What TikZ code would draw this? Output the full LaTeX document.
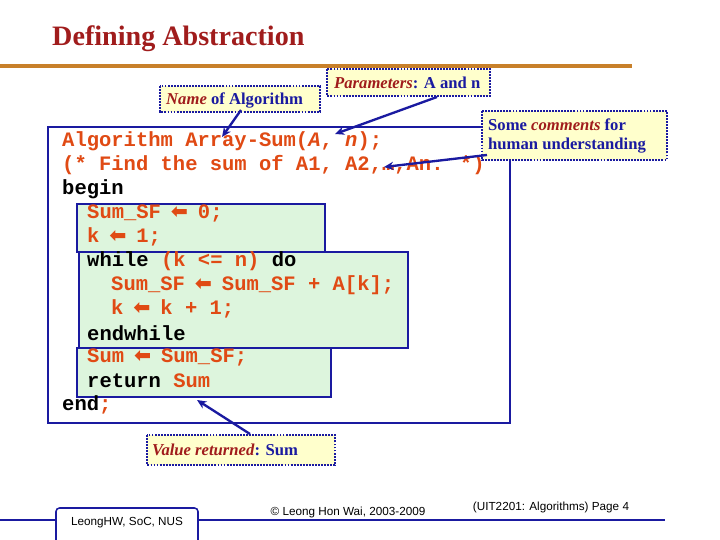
\documentclass[tikz,border=0pt]{standalone}
\usepackage{fontspec}
\setmainfont{Liberation Serif}
\setsansfont{Liberation Sans}
\newfontfamily\codef{Liberation Mono}
\newfontfamily\arrf{DejaVu Sans}
\usetikzlibrary{arrows.meta}
\definecolor{cred}{HTML}{E04A14}
\definecolor{cblue}{HTML}{1A1AA0}
\definecolor{ttl}{HTML}{A01C1C}
\definecolor{org}{HTML}{C8802A}
\definecolor{ylw}{HTML}{FFFFCC}
\definecolor{grn}{HTML}{DDF5DD}
\newcommand{\la}{\makebox[0.6em]{\arrf\bfseries ⬅}}
\begin{document}
\begin{tikzpicture}[x=0.03cm,y=-0.03cm,
  codeln/.style={anchor=west,inner sep=0,font=\codef\bfseries\fontsize{17.5pt}{20pt}\selectfont},
  note/.style={draw=cblue,densely dotted,line width=1.6pt,fill=ylw},
  notetxt/.style={font=\bfseries\fontsize{14.2pt}{16pt}\selectfont,text=cblue,align=left,inner sep=0,anchor=west},
  grnbox/.style={draw=cblue,line width=2.2pt,fill=grn},
  arr/.style={cblue,line width=2pt,-{Stealth[length=8pt,width=7pt]}}]
\useasboundingbox (0,0) rectangle (720,540);
\node[anchor=west,inner sep=0,text=ttl,font=\bfseries\fontsize{24pt}{26pt}\selectfont] (title) at (52,39) {Defining Abstraction};
\draw[org,line width=3pt] (0,66) -- (632,66);
% main box
\draw[cblue,line width=2.4pt,fill=white] (48,127) rectangle (510,423);
\draw[grnbox] (77,204) rectangle (325,252);
\draw[grnbox] (77,348) rectangle (331,397);
\draw[grnbox] (79,252) rectangle (408,348);
% code
\node[codeln,text=cred] (l1) at (62,141) {Algorithm Array-Sum(\textit{A}, \textit{n});};
\node[codeln,text=cred] (l2) at (62,165) {(* Find the sum of A1, A2,…,An. *)};
\node[codeln] (l3) at (62,189) {begin};
\node[codeln,text=cred] (l4) at (87,213) {Sum\_SF \la{} 0;};
\node[codeln,text=cred] (l5) at (87,237) {k \la{} 1;};
\node[codeln] (l6) at (87,261) {while \textcolor{cred}{(k <= n)} do};
\node[codeln,text=cred] (l7) at (111,285) {Sum\_SF \la{} Sum\_SF + A[k];};
\node[codeln,text=cred] (l8) at (111,309) {k \la{} k + 1;};
\node[codeln] (l9) at (87,333) {endwhile};
\node[codeln,text=cred] (l10) at (87,357) {Sum \la{} Sum\_SF;};
\node[codeln] (l11) at (87,381) {return \textcolor{cred}{Sum}};
\node[codeln] (l12) at (62,405) {end\textcolor{cred}{;}};
% notes
\draw[note] (160,86) rectangle (320,112);
\node[notetxt] (nm) at (166,100) {\textcolor{ttl}{\textit{Name}} of Algorithm};
\draw[note] (327,69) rectangle (490,96);
\node[notetxt] (pm) at (334,83) {\textcolor{ttl}{\textit{Parameters}}: A and n};
\draw[note] (482,111) rectangle (667,160);
\node[notetxt] (cm) at (488,136) {Some \textcolor{ttl}{\textit{comments}} for\\human understanding};
\draw[note] (147,435) rectangle (335,465);
\node[notetxt] (vr) at (152,450) {\textcolor{ttl}{\textit{Value returned}}: Sum};
\coordinate (a1s) at (241,110); \coordinate (a1e) at (222,137);
\coordinate (a2s) at (437,97); \coordinate (a2e) at (335,134);
\coordinate (a3s) at (487,155); \coordinate (a3e) at (384,167);
\coordinate (a4s) at (250,434); \coordinate (a4e) at (197,400);
\draw[arr] (a1s) -- (a1e);
\draw[arr] (a2s) -- (a2e);
\draw[arr] (a3s) -- (a3e);
\draw[arr] (a4s) -- (a4e);
% footer
\draw[cblue,line width=1.3pt] (0,520) -- (665,520);
\draw[cblue,line width=1.3pt,fill=white,rounded corners=3pt] (56,540) -- (56,508) -- (198,508) -- (198,540);
\node[font=\sffamily\fontsize{10pt}{12pt}\selectfont,inner sep=0] (f1) at (127,523) {LeongHW, SoC, NUS};
\node[font=\sffamily\fontsize{10pt}{12pt}\selectfont,inner sep=0] (f2) at (348,512) {© Leong Hon Wai, 2003-2009};
\node[font=\sffamily\fontsize{10pt}{12pt}\selectfont,inner sep=0] (f3) at (551,507) {(UIT2201: Algorithms) Page 4};
\end{tikzpicture}
\end{document}
